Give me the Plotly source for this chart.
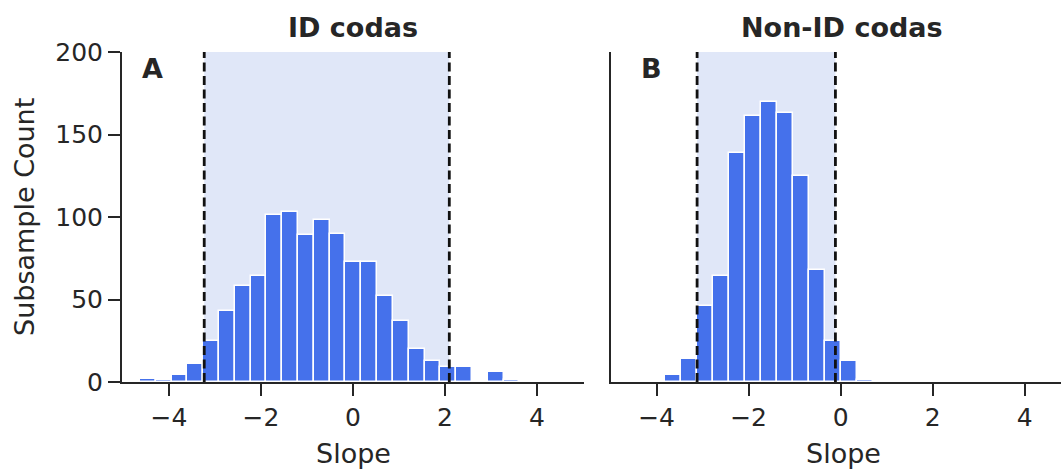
import plotly.graph_objects as go

# ---------------- data ----------------
# Panel A: ID codas histogram
a_bin_start = -4.63
a_bin_width = 0.3436
a_counts = [2, 1, 4, 11, 25, 43, 58, 64, 101, 103, 89, 98, 90, 73, 73, 52, 37, 20, 13, 9, 9, 0, 6, 1]
a_interval = [-3.233, 2.093]

# Panel B: Non-ID codas histogram
b_bin_start = -3.807
b_bin_width = 0.3465
b_counts = [4, 14, 46, 64, 139, 161, 170, 163, 125, 68, 25, 13, 1]
b_interval = [-3.119, -0.113]

x_ticks = [-4, -2, 0, 2, 4]
y_ticks = [0, 50, 100, 150, 200]
titles = ["ID codas", "Non-ID codas"]
panel_labels = ["A", "B"]
x_label = "Slope"
y_label = "Subsample Count"

# ---------------- style ----------------
W, H = 1062, 472
ML, MR, MT, MB = 122, 1, 52, 90
PW = W - ML - MR
PH = H - MT - MB
BAR = "#4571EB"
SHADE = "#E0E7F8"
INK = "#262626"
FONT = "DejaVu Sans"


def px_x(p):
    return (p - ML) / PW


def px_y(p):
    return (H - MB - p) / PH


a_centers = [a_bin_start + (i + 0.5) * a_bin_width for i in range(len(a_counts))]
b_centers = [b_bin_start + (i + 0.5) * b_bin_width for i in range(len(b_counts))]

fig = go.Figure()
fig.add_trace(go.Bar(x=a_centers, y=a_counts, width=a_bin_width,
                     marker=dict(color=BAR, line=dict(color="white", width=1.5)),
                     xaxis="x", yaxis="y", showlegend=False))
fig.add_trace(go.Bar(x=b_centers, y=b_counts, width=b_bin_width,
                     marker=dict(color=BAR, line=dict(color="white", width=1.5)),
                     xaxis="x2", yaxis="y2", showlegend=False))

shapes = []
for (xr, yr, iv) in [("x", "y", a_interval), ("x2", "y2", b_interval)]:
    shapes.append(dict(type="rect", xref=xr, yref=yr, x0=iv[0], x1=iv[1], y0=0, y1=200,
                       fillcolor=SHADE, line=dict(width=0), layer="below"))
    for v in iv:
        shapes.append(dict(type="line", xref=xr, yref=yr, x0=v, x1=v, y0=0, y1=200,
                           line=dict(color="#111111", width=2.8, dash="9px,4.5px"), layer="above"))

axis_common = dict(showline=True, linecolor=INK, linewidth=2, ticks="outside", ticklen=12,
                   tickwidth=2, tickcolor=INK, showgrid=False, zeroline=False,
                   tickfont=dict(family=FONT, size=25, color=INK))

a_dom_end = px_x(584)
b_dom_start = px_x(611)
x_range_a = [-5.02, 5.02]
units_per_px = (x_range_a[1] - x_range_a[0]) / (584 - 122)
x_range_b = [-4.99, -4.99 + units_per_px * (W - MR - 611)]

annotations = [
    dict(text=f"<b>{titles[0]}</b>", x=px_x(353), y=px_y(27), xref="paper", yref="paper",
         showarrow=False, xanchor="center", yanchor="middle",
         font=dict(family=FONT, size=27, color=INK)),
    dict(text=f"<b>{titles[1]}</b>", x=px_x(841.5), y=px_y(27), xref="paper", yref="paper",
         showarrow=False, xanchor="center", yanchor="middle",
         font=dict(family=FONT, size=27, color=INK)),
    dict(text=f"<b>{panel_labels[0]}</b>", x=px_x(140), y=px_y(68.5), xref="paper", yref="paper",
         showarrow=False, xanchor="left", yanchor="middle",
         font=dict(family=FONT, size=27, color=INK)),
    dict(text=f"<b>{panel_labels[1]}</b>", x=px_x(639), y=px_y(68.5), xref="paper", yref="paper",
         showarrow=False, xanchor="left", yanchor="middle",
         font=dict(family=FONT, size=27, color=INK)),
    dict(text=x_label, x=px_x(353), y=px_y(453), xref="paper", yref="paper",
         showarrow=False, xanchor="center", yanchor="middle",
         font=dict(family=FONT, size=27, color=INK)),
    dict(text=x_label, x=px_x(843), y=px_y(453), xref="paper", yref="paper",
         showarrow=False, xanchor="center", yanchor="middle",
         font=dict(family=FONT, size=27, color=INK)),
    dict(text=y_label, x=px_x(24), y=0.5, xref="paper", yref="paper", textangle=-90,
         showarrow=False, xanchor="center", yanchor="middle",
         font=dict(family=FONT, size=27, color=INK)),
]

fig.update_layout(
    width=W, height=H,
    margin=dict(l=ML, r=MR, t=MT, b=MB),
    paper_bgcolor="white", plot_bgcolor="white",
    bargap=0,
    xaxis=dict(domain=[0, a_dom_end], range=x_range_a, tickvals=x_ticks,
               ticktext=["\u2212" + str(abs(t)) if t < 0 else str(t) for t in x_ticks],
               anchor="y", **axis_common),
    yaxis=dict(domain=[0, 1], range=[0, 200], tickvals=y_ticks, anchor="x", **axis_common),
    xaxis2=dict(domain=[b_dom_start, 1], range=x_range_b, tickvals=x_ticks,
                ticktext=["\u2212" + str(abs(t)) if t < 0 else str(t) for t in x_ticks],
                anchor="y2", **axis_common),
    yaxis2=dict(domain=[0, 1], range=[0, 200], anchor="x2", showline=True, linecolor=INK,
                linewidth=2, ticks="", showticklabels=False, showgrid=False, zeroline=False),
    shapes=shapes,
    annotations=annotations,
    font=dict(family=FONT, color=INK),
)

fig.write_html("out.html")
